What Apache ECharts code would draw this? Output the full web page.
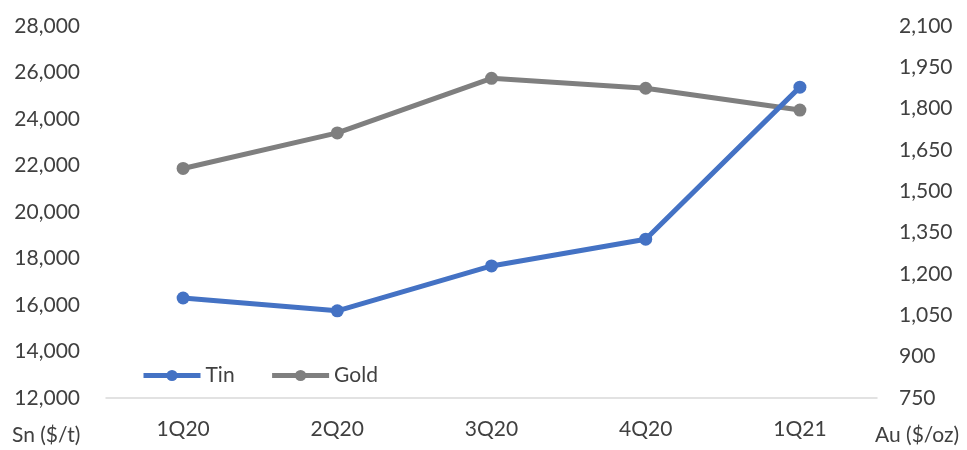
<!DOCTYPE html>
<html>
<head>
<meta charset="utf-8">
<script src="https://cdn.jsdelivr.net/npm/echarts@6/dist/echarts.min.js"></script>
<style>
html,body{margin:0;padding:0;background:#fff;}
#chart{width:967px;height:450px;}
</style>
</head>
<body>
<div id="chart"></div>
<script>
const categories = ['1Q20', '2Q20', '3Q20', '4Q20', '1Q21'];
const tinValues = [16300, 15750, 17680, 18830, 25370];
const goldValues = [1583, 1712, 1910, 1874, 1795];
const leftAxisName = 'Sn ($/t)';
const rightAxisName = 'Au ($/oz)';

const FONT = 'Lato';
const TXT = '#404040';

const chart = echarts.init(document.getElementById('chart'), null, {renderer: 'canvas'});
chart.setOption({
  animation: false,
  backgroundColor: '#ffffff',
  textStyle: {fontFamily: FONT, color: TXT},
  grid: {left: 106, right: 90, top: 26, bottom: 52, containLabel: false},
  legend: {
    left: 141, top: 365, padding: 0,
    itemWidth: 57, itemHeight: 14, itemGap: 35,
    lineStyle: {width: 5},
    textStyle: {fontFamily: FONT, fontSize: 21, color: TXT},
    data: ['Tin', 'Gold']
  },
  xAxis: {
    type: 'category',
    data: categories,
    boundaryGap: true,
    axisLine: {lineStyle: {color: '#D9D9D9', width: 1.5}},
    axisTick: {show: false},
    axisLabel: {fontFamily: FONT, fontSize: 21, color: TXT, margin: 21},
    splitLine: {show: false}
  },
  yAxis: [
    {
      type: 'value', min: 12000, max: 28000, interval: 2000,
      axisLine: {show: false}, axisTick: {show: false}, splitLine: {show: false},
      axisLabel: {
        fontFamily: FONT, fontSize: 21, color: TXT, margin: 26,
        formatter: v => v.toLocaleString('en-US')
      }
    },
    {
      type: 'value', min: 750, max: 2100, interval: 150,
      axisLine: {show: false}, axisTick: {show: false}, splitLine: {show: false},
      axisLabel: {
        fontFamily: FONT, fontSize: 21, color: TXT, margin: 22,
        formatter: v => v.toLocaleString('en-US')
      }
    }
  ],
  graphic: [
    {type: 'text', left: 12, top: 425, style: {text: leftAxisName, font: '21px Lato', fill: TXT}},
    {type: 'text', left: 875, top: 425, style: {text: rightAxisName, font: '21px Lato', fill: TXT}}
  ],
  series: [
    {
      name: 'Tin', type: 'line', yAxisIndex: 0, data: tinValues, z: 3,
      symbol: 'circle', symbolSize: 13,
      lineStyle: {color: '#4472C4', width: 5},
      itemStyle: {color: '#4472C4'}
    },
    {
      name: 'Gold', type: 'line', yAxisIndex: 1, data: goldValues, z: 2,
      symbol: 'circle', symbolSize: 13,
      lineStyle: {color: '#7F7F7F', width: 5},
      itemStyle: {color: '#7F7F7F'}
    }
  ]
});
</script>
</body>
</html>
